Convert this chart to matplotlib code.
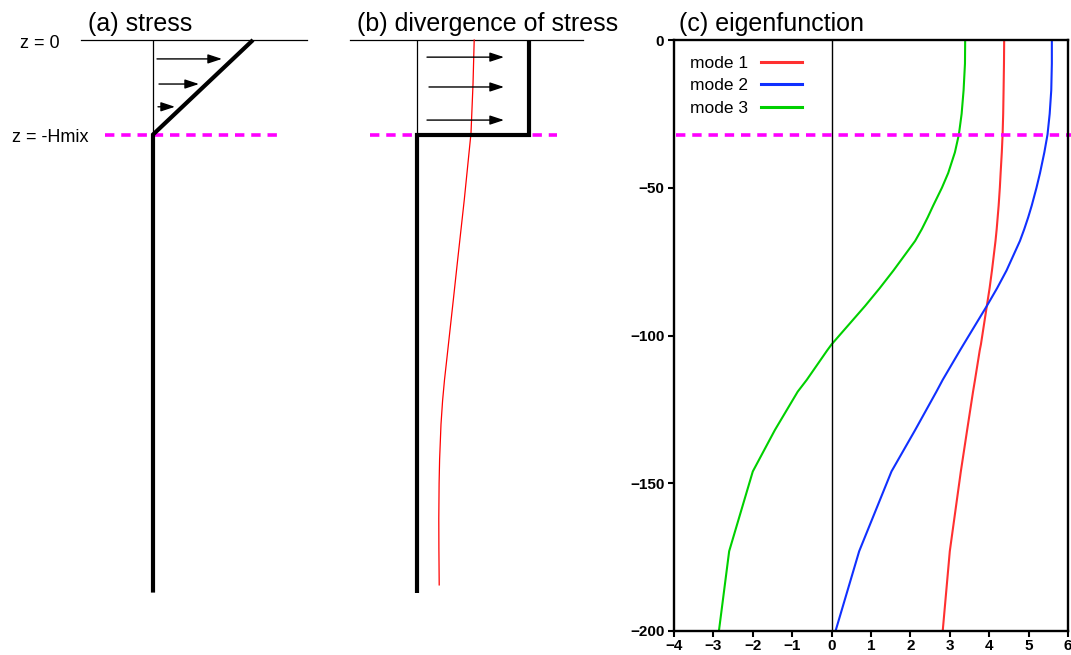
import matplotlib
matplotlib.use("Agg")
import matplotlib.pyplot as plt

plt.rcParams["font.family"] = ["Liberation Sans", "DejaVu Sans"]

# ---- mixed-layer schematic parameters ----
H_MIX = 32.0          # mixed-layer depth
Z_BOTTOM = -187.0     # bottom of the schematic profiles
TAU_SURFACE = 1.0     # surface wind stress (schematic units)
DIV_MIXED = 1.12      # stress divergence inside the mixed layer

# (a) stress profile: linear decrease to zero at -Hmix
stress_z = [0.0, -H_MIX, Z_BOTTOM]
stress_val = [TAU_SURFACE, 0.0, 0.0]
stress_arrow_z = [-6.4, -14.9, -22.6]
stress_arrow_x0 = [0.04, 0.06, 0.05]
stress_arrow_x1 = [0.69, 0.46, 0.22]

# (b) divergence of stress: constant in mixed layer, zero below
div_z = [0.0, -H_MIX, -H_MIX, Z_BOTTOM]
div_val = [DIV_MIXED, DIV_MIXED, 0.0, 0.0]
div_arrow_z = [-5.8, -15.9, -27.1]
div_arrow_x0 = [0.10, 0.12, 0.10]
div_arrow_x1 = [0.87, 0.87, 0.87]

# (b) projected response profile
resp_z = [0.0, -15.0, -31.5, -54.0, -75.5, -88.0, -100.0, -108.0, -115.0,
          -122.0, -130.0, -142.0, -150.0, -162.0, -172.0, -184.4]
resp_val = [0.572, 0.560, 0.540, 0.473, 0.403, 0.363, 0.324, 0.298, 0.275,
            0.256, 0.240, 0.226, 0.221, 0.218, 0.219, 0.222]

# (c) vertical eigenfunctions
eig_z = [0, -8, -17, -25, -32, -38, -45, -50, -56, -60, -64, -68, -78, -84,
         -90, -103, -105, -115, -119, -132, -146, -173, -200]
mode1 = [4.38, 4.375, 4.365, 4.355, 4.34, 4.32, 4.29, 4.27, 4.24, 4.215, 4.19,
         4.16, 4.07, 4.01, 3.94, 3.79, 3.76, 3.64, 3.59, 3.44, 3.28, 3.00, 2.82]
mode2 = [5.59, 5.59, 5.575, 5.535, 5.48, 5.40, 5.29, 5.20, 5.08, 4.99, 4.89,
         4.78, 4.44, 4.20, 3.94, 3.35, 3.26, 2.82, 2.66, 2.12, 1.52, 0.70, 0.10]
mode3 = [3.39, 3.385, 3.35, 3.30, 3.23, 3.13, 2.96, 2.80, 2.58, 2.44, 2.29,
         2.12, 1.57, 1.22, 0.85, 0.0, -0.11, -0.63, -0.86, -1.44, -2.00,
         -2.60, -2.86]

mode_labels = ["mode 1", "mode 2", "mode 3"]
mode_colors = ["#ff3030", "#1030ff", "#00d000"]

x_ticks = [-4, -3, -2, -1, 0, 1, 2, 3, 4, 5, 6]
y_ticks = [0, -50, -100, -150, -200]

MAGENTA = "#ff00ff"
W, H = 1071, 655
fig = plt.figure(figsize=(W / 100, H / 100), dpi=100)

top_px, bot_px = 40, 631
ax_bottom = 1 - bot_px / H
ax_height = (bot_px - top_px) / H
TITLE_Y = 1.027


def panel(left_px, right_px, zero_px):
    ax = fig.add_axes([left_px / W, ax_bottom, (right_px - left_px) / W, ax_height])
    ax.set_xlim((left_px - zero_px) / 100, (right_px - zero_px) / 100)
    ax.set_ylim(-200, 0)
    ax.axis("off")
    return ax


def draw_arrows(ax, zs, x0s, x1s):
    for z, a, b in zip(zs, x0s, x1s):
        ax.annotate("", xy=(b, z), xytext=(a, z),
                    arrowprops=dict(arrowstyle="-|>,head_length=0.85,head_width=0.28",
                                    mutation_scale=10, color="black", lw=1.0,
                                    shrinkA=0, shrinkB=0))


def mixed_layer_line(ax, xmin, xmax):
    ax.plot([xmin, xmax], [-H_MIX, -H_MIX], color=MAGENTA, lw=2.6,
            dashes=(2.6, 1.9), clip_on=False, zorder=1)


# ---- (a) stress ----
ax_a = panel(81, 307, 153)
ax_a.axhline(0, color="black", lw=0.9, clip_on=False)
ax_a.plot([0, 0], [0, -H_MIX], color="black", lw=0.9)
mixed_layer_line(ax_a, -0.48, 1.27)
ax_a.plot(stress_val, stress_z, color="black", lw=3.0, clip_on=False,
          solid_joinstyle="miter", solid_capstyle="butt", zorder=3)
draw_arrows(ax_a, stress_arrow_z, stress_arrow_x0, stress_arrow_x1)
ax_a.text(-1.33, -1.2, "z = 0", fontsize=13, ha="left", va="center")
ax_a.text(-1.41, -H_MIX - 1.0, "z = -Hmix", fontsize=13, ha="left", va="center")
ax_a.text(0.031, TITLE_Y, "(a) stress", transform=ax_a.transAxes,
          fontsize=18, ha="left", va="center")

# ---- (b) divergence of stress ----
ax_b = panel(350, 583, 417)
ax_b.axhline(0, color="black", lw=0.9, clip_on=False)
ax_b.plot([0, 0], [0, -H_MIX], color="black", lw=0.9)
mixed_layer_line(ax_b, -0.47, 1.40)
ax_b.plot(resp_val, resp_z, color="red", lw=0.9, clip_on=False, zorder=2)
ax_b.plot(div_val, div_z, color="black", lw=3.0, clip_on=False,
          solid_joinstyle="miter", solid_capstyle="butt", zorder=3)
draw_arrows(ax_b, div_arrow_z, div_arrow_x0, div_arrow_x1)
ax_b.text(0.029, TITLE_Y, "(b) divergence of stress", transform=ax_b.transAxes,
          fontsize=18, ha="left", va="center")

# ---- (c) eigenfunction ----
ax_c = fig.add_axes([674 / W, ax_bottom, 394 / W, ax_height])
for vals, lab, col in zip([mode1, mode2, mode3], mode_labels, mode_colors):
    ax_c.plot(vals, eig_z, color=col, lw=1.5, label=lab)
ax_c.axvline(0, color="black", lw=1.0)
ax_c.axhline(-H_MIX, xmin=0.006, xmax=1.008, color=MAGENTA, lw=2.6,
             dashes=(2.6, 1.9), clip_on=False)
ax_c.set_xlim(-4, 6)
ax_c.set_ylim(-200, 0)
ax_c.set_xticks(x_ticks)
ax_c.set_yticks(y_ticks)
for s in ax_c.spines.values():
    s.set_linewidth(1.7)
ax_c.tick_params(direction="out", length=4, width=1.5, labelsize=11)
ax_c.tick_params(axis="x", pad=2)
ax_c.tick_params(axis="y", pad=3)
for lbl in ax_c.get_xticklabels() + ax_c.get_yticklabels():
    lbl.set_fontweight("bold")
leg = ax_c.legend(loc="upper left", bbox_to_anchor=(0.0, 1.0), frameon=False,
                  markerfirst=False, fontsize=12.5, handlelength=2.4,
                  handletextpad=0.75, labelspacing=0.42, borderaxespad=0.5)
for ln in leg.get_lines():
    ln.set_linewidth(2.2)
ax_c.text(0.013, TITLE_Y, "(c) eigenfunction", transform=ax_c.transAxes,
          fontsize=18, ha="left", va="center")

fig.savefig("out.png", dpi=100)
